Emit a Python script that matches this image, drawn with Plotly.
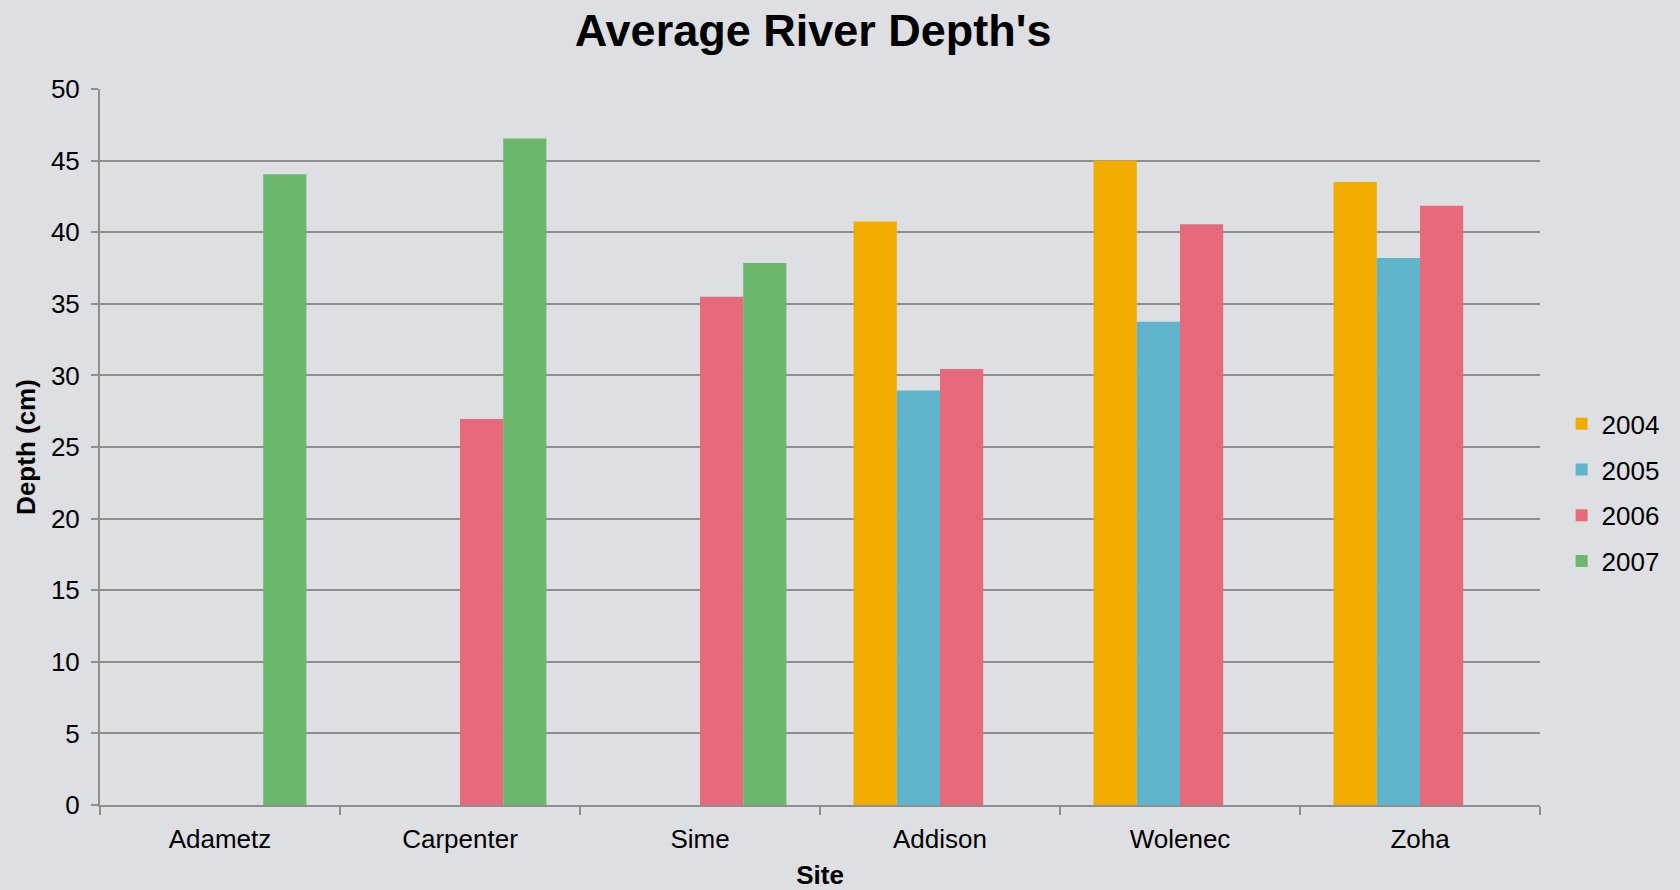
import plotly.graph_objects as go

sites = ["Adametz", "Carpenter", "Sime", "Addison", "Wolenec", "Zoha"]
years = ["2004", "2005", "2006", "2007"]
depth_2004 = [None, None, None, 40.75, 45.0, 43.5]
depth_2005 = [None, None, None, 28.95, 33.75, 38.2]
depth_2006 = [None, 26.95, 35.5, 30.45, 40.55, 41.85]
depth_2007 = [44.05, 46.55, 37.85, None, None, None]
colors = ["#F0AC00", "#60B5CC", "#E66A7C", "#6CB76C"]

series = [depth_2004, depth_2005, depth_2006, depth_2007]

fig = go.Figure()
for yr, vals, c in zip(years, series, colors):
    fig.add_trace(go.Bar(
        x=sites, y=vals, name=yr, legendgroup=yr,
        marker=dict(color=c, line=dict(width=0)),
    ))

font_family = "Liberation Sans, Arial, sans-serif"
bg = "#DEDFE3"
grid = "#8E8E8E"

fig.update_layout(
    width=1680, height=890,
    paper_bgcolor=bg, plot_bgcolor=bg,
    font=dict(family=font_family, size=26, color="#000000"),
    margin=dict(l=100, r=140, t=89, b=85, autoexpand=False),
    barmode="group", bargap=0.28, bargroupgap=0,
    title=dict(text="<b>Average River Depth's</b>", font=dict(size=45, color="#000000"),
               x=0.484, xanchor="center", xref="container",
               y=0.966, yanchor="middle", yref="container"),
    legend=dict(x=1.015, xanchor="left", y=0.436, yanchor="middle",
                bgcolor="rgba(0,0,0,0)", font=dict(size=26),
                tracegroupgap=9, traceorder="grouped"),
    showlegend=True,
)

fig.update_xaxes(
    type="category", tickson="boundaries",
    ticks="outside", ticklen=8, tickwidth=2, tickcolor=grid,
    showline=True, linecolor=grid, linewidth=2,
    showgrid=False, zeroline=False,
    title=dict(text="<b>Site</b>", font=dict(size=26), standoff=14),
    tickfont=dict(size=26),
    ticklabelstandoff=10,
)
fig.update_yaxes(
    range=[0, 50], dtick=5, tick0=0,
    ticks="outside", ticklen=7, tickwidth=2, tickcolor=grid,
    showline=True, linecolor=grid, linewidth=2,
    showgrid=True, gridcolor=grid, gridwidth=2,
    zeroline=False,
    title=dict(text="<b>Depth (cm)</b>", font=dict(size=26), standoff=8),
    tickfont=dict(size=26),
    ticklabelstandoff=6,
)

fig.write_html(
    "out.html",
    config={"displayModeBar": False},
    post_script="document.body.style.margin='0';document.body.style.overflow='hidden';document.body.style.background='" + bg + "';",
)
